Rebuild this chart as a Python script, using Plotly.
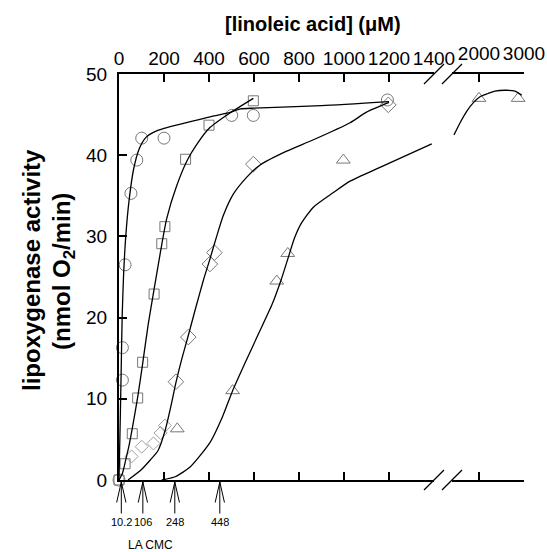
import plotly.graph_objects as go

# ---------------- data ----------------
circle_x = [0, 15, 15, 27, 53, 79, 101, 200, 501, 597, 1193]
circle_y = [0, 12.3, 16.3, 26.5, 35.3, 39.4, 42.1, 42.1, 44.9, 44.9, 46.8]
circle_fit_x = [0, 6, 10, 14, 20, 30, 45, 65, 90, 120, 160, 200, 300, 400, 486, 540, 600, 900, 1200]
circle_fit_y = [0, 8, 14, 20, 25, 30, 34.5, 38.3, 40.8, 42.2, 42.9, 43.3, 44.0, 44.7, 45.2, 45.7, 45.8, 46.1, 46.6]

square_x = [0, 27, 59, 83, 105, 156, 190, 204, 296, 400, 597]
square_y = [0, 2.0, 5.7, 10.1, 14.5, 22.9, 29.1, 31.2, 39.5, 43.7, 46.7]
square_fit_x = [0, 15, 30, 45, 60, 83, 105, 130, 156, 190, 212, 256, 304, 345, 404, 493, 597]
square_fit_y = [0, 0.8, 2.5, 4.3, 6.5, 10.2, 14.3, 19.2, 23.5, 29.0, 32.2, 36.2, 39.4, 41.3, 43.4, 45.2, 47.0]

diamond_x = [253, 308, 404, 424, 597, 1197]
diamond_y = [12.1, 17.6, 26.6, 28.0, 38.9, 46.2]
diamond_low_x = [56, 101, 153, 185, 204]
diamond_low_y = [2.9, 4.1, 4.5, 5.8, 6.7]
diamond_fit_x = [40, 100, 140, 173, 205, 230, 253, 280, 308, 338, 375, 404, 434, 464, 508, 568, 627, 745, 864, 1027, 1100, 1200]
diamond_fit_y = [0, 1.3, 2.5, 3.6, 6.1, 9.0, 12.0, 15.0, 17.8, 20.9, 24.6, 27.2, 30.0, 32.6, 35.2, 37.3, 38.8, 40.5, 41.9, 44.0, 45.3, 46.5]

triangle_x = [259, 505, 701, 750, 997]
triangle_y = [6.3, 11.0, 24.5, 27.9, 39.4]
triangle_hi_x = [2000, 2870]
triangle_hi_y = [47.0, 47.0]
triangle_fit_x = [190, 250, 316, 404, 460, 505, 560, 620, 680, 720, 750, 780, 810, 864, 953, 1027, 1160, 1390]
triangle_fit_y = [0, 0.4, 1.6, 4.6, 7.8, 11.0, 14.4, 18.0, 21.6, 24.6, 27.2, 29.8, 31.6, 33.6, 35.4, 36.8, 38.5, 41.4]
triangle_hi_fit_x = [1444, 1580, 1726, 1880, 2022, 2200, 2356, 2600, 2800, 2949]
triangle_hi_fit_y = [42.5, 44.0, 45.4, 46.5, 47.2, 47.6, 47.9, 48.0, 47.9, 47.4]

x_left_ticks = [0, 200, 400, 600, 800, 1000, 1200, 1400]
x_left_marks = [200, 400, 600, 800, 1000, 1200]
x_right_ticks = [2000, 3000]
y_ticks = [0, 10, 20, 30, 40, 50]

cmc_values = [10.2, 106, 248, 448]
cmc_labels = ["10.2", "106", "248", "448"]

# ---------------- figure ----------------
FONT = "Liberation Sans, Arial, sans-serif"
MC = "#777777"
LINE = dict(color="black", width=1.3, shape="spline", smoothing=0.6)

fig = go.Figure()

def fit(x, y, xa="x"):
    fig.add_trace(go.Scatter(x=x, y=y, mode="lines", line=LINE, xaxis=xa, yaxis="y",
                             hoverinfo="skip", showlegend=False))

def pts(x, y, sym, size, xa="x", color=MC):
    fig.add_trace(go.Scatter(x=x, y=y, mode="markers", xaxis=xa, yaxis="y", cliponaxis=False,
                             marker=dict(symbol=sym, size=size, color=color,
                                         line=dict(color=color, width=1)),
                             showlegend=False))

pts(diamond_low_x, diamond_low_y, "diamond-open", 10, color="#a0a0a0")
pts(circle_x, circle_y, "circle-open", 12)
pts(square_x, square_y, "square-open", 10)
pts(diamond_x, diamond_y, "diamond-open", 12)
pts(triangle_x, triangle_y, "triangle-up-open", 12)
pts(triangle_hi_x, triangle_hi_y, "triangle-up-open", 12, xa="x2")

fit(circle_fit_x, circle_fit_y)
fit(square_fit_x, square_fit_y)
fit(diamond_fit_x, diamond_fit_y)
fit(triangle_fit_x, triangle_fit_y)
fit(triangle_hi_fit_x, triangle_hi_fit_y, xa="x2")

# geometry of the plotting frame (pixels)
L, R, T, B = 119, 524, 74, 480
W, H = 547, 552
xd1 = (434 - L) / (R - L)
xd2 = (452 - L) / (R - L)

tickfont = dict(family=FONT, size=19, color="black")
common = dict(showgrid=False, zeroline=False, showline=True, linecolor="black", linewidth=2,
              ticks="inside", ticklen=8, tickwidth=2, tickcolor="black")

fig.update_layout(
    width=W, height=H,
    margin=dict(l=L, r=W - R, t=T, b=H - B, pad=0),
    paper_bgcolor="white", plot_bgcolor="white",
    showlegend=False,
    xaxis=dict(domain=[0, xd1], range=[0, 1400], side="top", mirror="ticks", anchor="y",
               tickvals=x_left_marks, showticklabels=False, **common),
    xaxis3=dict(overlaying="x", range=[0, 1400], side="top", anchor="y",
                tickvals=x_left_ticks, ticktext=[str(v) for v in x_left_ticks],
                ticks="", showline=False, showgrid=False, zeroline=False,
                tickfont=tickfont, ticklabelstandoff=4),
    xaxis2=dict(domain=[xd2, 1], range=[1400, 3000], side="top", mirror="ticks", anchor="y",
                tickvals=x_right_ticks, ticktext=[str(v) for v in x_right_ticks],
                tickfont=tickfont, ticklabelstandoff=4, **common),
    yaxis=dict(domain=[0, 1], range=[0, 50], anchor="x", side="left", tickvals=y_ticks,
               tickfont=tickfont, ticklabelstandoff=6, **common),
    yaxis2=dict(overlaying="y", anchor="x2", side="right", range=[0, 50],
                tickvals=y_ticks[1:-1], showticklabels=False, **common),
)

# dummy trace so the label-only axis exists
fig.add_trace(go.Scatter(x=[], y=[], xaxis="x3", yaxis="y", showlegend=False))

# axis-break slashes
for ref, anchor in (("x domain", 1), ("x2 domain", 0)):
    for ya in (0, 1):
        fig.add_shape(type="path", xref=ref, yref="paper", xsizemode="pixel", ysizemode="pixel",
                      xanchor=anchor, yanchor=ya, path="M-10,-10 L10,10",
                      line=dict(color="black", width=1.3))

# CMC arrows + labels
for v, lab in zip(cmc_values, cmc_labels):
    for ax, ay in ((0, 33), (-5, 22), (5, 22)):
        fig.add_annotation(x=v, y=0, xref="x", yref="y", text="", showarrow=True,
                           arrowhead=0, arrowwidth=1, arrowcolor="black",
                           ax=ax, ay=ay, standoff=0, yshift=-2)
    fig.add_annotation(x=v, y=0, xref="x", yref="y", text=lab, showarrow=False,
                       xanchor="center", yanchor="middle",
                       yshift=-42, font=dict(family=FONT, size=11, color="black"))

fig.add_annotation(x=(150 - L) / (R - L), y=(B - 545) / (B - T), xref="paper", yref="paper",
                   text="LA CMC", showarrow=False, xanchor="center", yanchor="middle",
                   font=dict(family=FONT, size=12, color="black"))

# titles
fig.add_annotation(x=(313 - L) / (R - L), y=(B - 24) / (B - T), xref="paper", yref="paper",
                   text="<b>[linoleic acid] (μM)</b>", showarrow=False,
                   xanchor="center", yanchor="middle",
                   font=dict(family=FONT, size=20, color="black"))
fig.add_annotation(x=(31 - L) / (R - L), y=(B - 270) / (B - T), xref="paper", yref="paper",
                   text="<b>lipoxygenase activity</b>", showarrow=False, textangle=-90,
                   xanchor="center", yanchor="middle",
                   font=dict(family=FONT, size=24, color="black"))
fig.add_annotation(x=(63 - L) / (R - L), y=(B - 272) / (B - T), xref="paper", yref="paper",
                   text="<b>(nmol O<sub>2</sub>/min)</b>", showarrow=False, textangle=-90,
                   xanchor="center", yanchor="middle",
                   font=dict(family=FONT, size=24, color="black"))

fig.write_html("out.html")
